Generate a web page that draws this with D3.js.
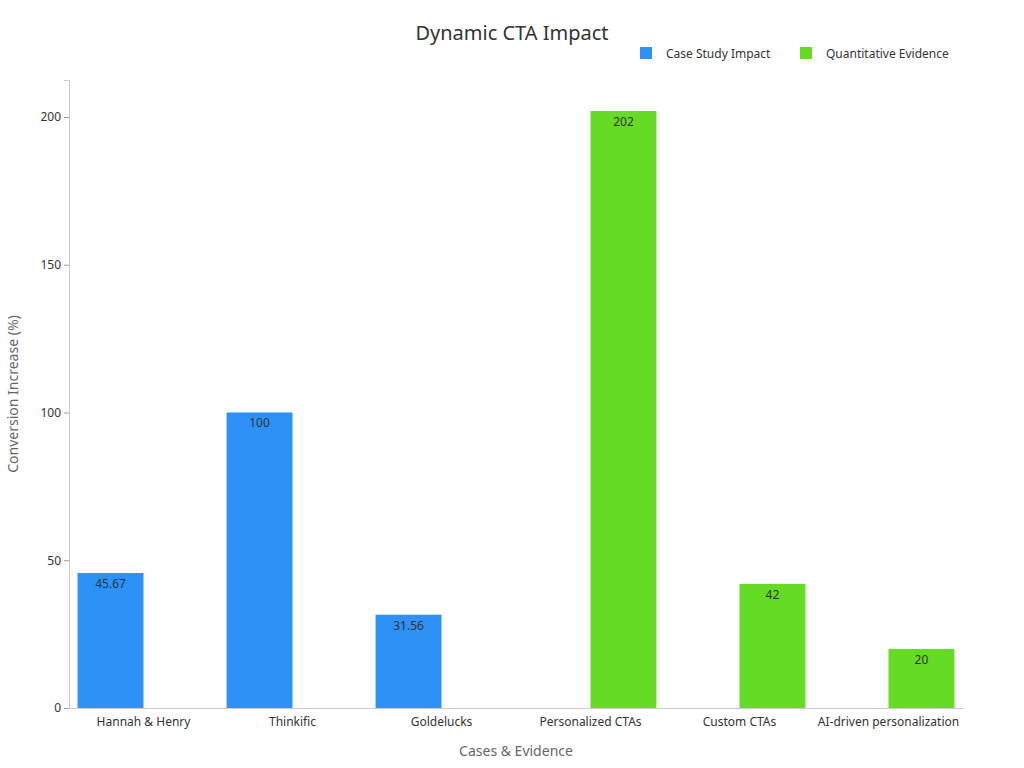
<!DOCTYPE html>
<html><head><meta charset="utf-8">
<script src="https://cdn.jsdelivr.net/npm/d3@7"></script>
<style>body{margin:0;font-family:"Noto Sans",sans-serif;background:#fff}</style>
</head><body><svg id="c" width="1024" height="768"></svg>
<script>
// chart data
const categories = ["Hannah & Henry","Thinkific","Goldelucks","Personalized CTAs","Custom CTAs","AI-driven personalization"];
const seriesNames = ["Case Study Impact","Quantitative Evidence"];
const caseStudy = [45.67,100,31.56,null,null,null];
const quantEvidence = [null,null,null,202,42,20];
const yTicks = [0,50,100,150,200];
const colors = ["#2d91f7","#66db25"];

const svg = d3.select("#c");
const m = {l:69,r:963,t:80,b:708};

const x = d3.scaleBand().domain(categories).range([m.l,m.r]);
const xi = d3.scaleBand().domain(seriesNames).range([0,x.bandwidth()]).paddingOuter(0.13);
const y = d3.scaleLinear().domain([0,212.5]).range([m.b,m.t]);

svg.append("text").attr("x",512).attr("y",40).attr("text-anchor","middle")
  .attr("font-size",20).attr("fill","#333").text("Dynamic CTA Impact");

// legend
const lg = svg.append("g");
[[640,"Case Study Impact"],[800,"Quantitative Evidence"]].forEach((d,i)=>{
  lg.append("rect").attr("x",d[0]).attr("y",47).attr("width",12).attr("height",12).attr("fill",colors[i]);
  lg.append("text").attr("x",d[0]+26).attr("y",58).attr("font-size",12).attr("fill","#333").text(d[1]);
});

// y axis
const ya = svg.append("g").attr("transform",`translate(${m.l},0)`)
  .call(d3.axisLeft(y).tickValues(yTicks).tickSize(5));
ya.select(".domain").attr("stroke","#ccc");
ya.selectAll("line").attr("stroke","#999");
ya.selectAll("text").attr("font-size",12).attr("fill","#333").attr("font-family","Noto Sans");

const xa = svg.append("g").attr("transform",`translate(0,${m.b})`)
  .call(d3.axisBottom(x).tickSize(0).tickPadding(9));
xa.select(".domain").attr("stroke","#ccc");
xa.selectAll("text").attr("font-size",12).attr("fill","#333").attr("font-family","Noto Sans");

svg.append("text").attr("x",516).attr("y",756).attr("text-anchor","middle")
  .attr("font-size",14).attr("fill","#666").text("Cases & Evidence");
svg.append("text").attr("transform","translate(18,394) rotate(-90)").attr("text-anchor","middle")
  .attr("font-size",14).attr("fill","#666").text("Conversion Increase (%)");

[caseStudy,quantEvidence].forEach((vals,si)=>{
  categories.forEach((c,i)=>{
    const v = vals[i];
    if(v==null) return;
    const bx = x(c)+xi(seriesNames[si]);
    svg.append("rect").attr("x",bx).attr("y",y(v)).attr("width",xi.bandwidth())
      .attr("height",y(0)-y(v)).attr("fill",colors[si]);
    svg.append("text").attr("x",bx+xi.bandwidth()/2).attr("y",y(v)+15)
      .attr("text-anchor","middle").attr("font-size",12).attr("fill","#333").text(v);
  });
});
</script></body></html>
